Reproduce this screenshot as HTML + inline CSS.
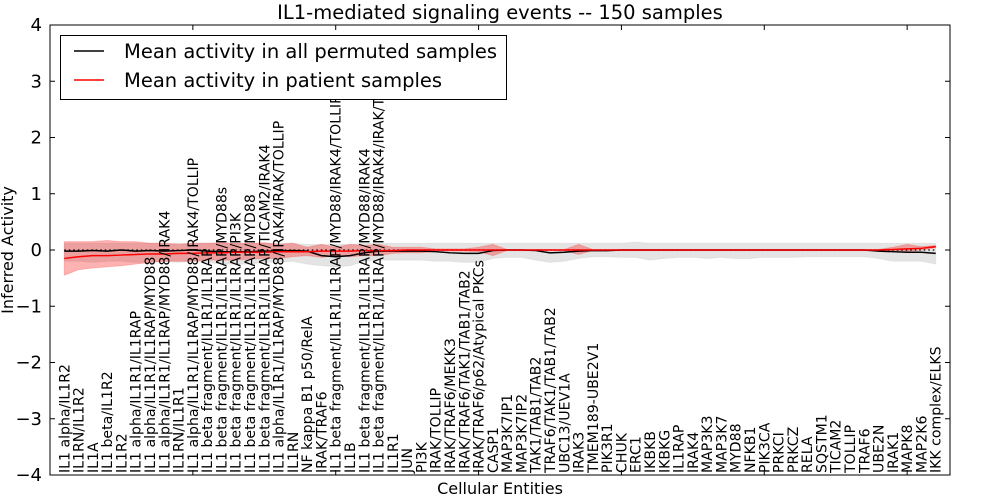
<!DOCTYPE html>
<html><head><meta charset="utf-8"><style>
body{margin:0;background:#fff;}
svg{display:block;font-family:"DejaVu Sans","Liberation Sans",sans-serif;}
</style></head><body>
<svg id="chart" width="1000" height="500"></svg>
<script>
const labels=["IL1 alpha/IL1R2","IL1RN/IL1R2","IL1A","IL1 beta/IL1R2","IL1R2","IL1 alpha/IL1R1/IL1RAP","IL1 alpha/IL1R1/IL1RAP/MYD88","IL1 alpha/IL1R1/IL1RAP/MYD88/IRAK4","IL1RN/IL1R1","IL1 alpha/IL1R1/IL1RAP/MYD88/IRAK4/TOLLIP","IL1 beta fragment/IL1R1/IL1RAP","IL1 beta fragment/IL1R1/IL1RAP/MYD88s","IL1 beta fragment/IL1R1/IL1RAP/PI3K","IL1 beta fragment/IL1R1/IL1RAP/MYD88","IL1 beta fragment/IL1R1/IL1RAP/TICAM2/IRAK4","IL1 alpha/IL1R1/IL1RAP/MYD88/IRAK4/IRAK/TOLLIP","IL1RN","NF kappa B1 p50/RelA","IRAK/TRAF6","IL1 beta fragment/IL1R1/IL1RAP/MYD88/IRAK4/TOLLIP","IL1B","IL1 beta fragment/IL1R1/IL1RAP/MYD88/IRAK4","IL1 beta fragment/IL1R1/IL1RAP/MYD88/IRAK4/IRAK/TOLLIP","IL1R1","JUN","PI3K","IRAK/TOLLIP","IRAK/TRAF6/MEKK3","IRAK/TRAF6/TAK1/TAB1/TAB2","IRAK/TRAF6/p62/Atypical PKCs","CASP1","MAP3K7IP1","MAP3K7IP2","TAK1/TAB1/TAB2","TRAF6/TAK1/TAB1/TAB2","UBC13/UEV1A","IRAK3","TMEM189-UBE2V1","PIK3R1","CHUK","ERC1","IKBKB","IKBKG","IL1RAP","IRAK4","MAP3K3","MAP3K7","MYD88","NFKB1","PIK3CA","PRKCI","PRKCZ","RELA","SQSTM1","TICAM2","TOLLIP","TRAF6","UBE2N","IRAK1","MAPK8","MAP2K6","IKK complex/ELKS"];
const permMean=[-0.02,-0.02,-0.01,-0.02,0,-0.02,-0.01,-0.02,-0.01,0,-0.02,-0.03,-0.03,-0.03,-0.02,-0.02,-0.01,-0.02,-0.1,-0.12,-0.1,-0.05,-0.02,-0.02,-0.02,-0.02,-0.03,-0.05,-0.06,-0.06,-0.01,0,0,-0.01,-0.05,-0.04,-0.02,-0.01,-0.01,0,0,0,0,0,0,0,0,0,0,0,0,0,0,0,0,0,0,-0.02,-0.03,-0.04,-0.04,-0.06];
const permHi=[0.12,0.12,0.12,0.12,0.12,0.12,0.12,0.12,0.12,0.12,0.12,0.12,0.12,0.12,0.12,0.12,0.12,0.1,0.1,0.1,0.1,0.12,0.12,0.12,0.12,0.12,0.12,0.12,0.12,0.12,0.12,0.12,0.12,0.12,0.12,0.12,0.12,0.12,0.12,0.12,0.14,0.12,0.12,0.12,0.12,0.12,0.12,0.12,0.12,0.12,0.12,0.12,0.12,0.12,0.12,0.12,0.12,0.12,0.12,0.12,0.12,0.12];
const permLo=[-0.2,-0.2,-0.22,-0.2,-0.2,-0.22,-0.22,-0.2,-0.22,-0.2,-0.22,-0.25,-0.25,-0.25,-0.22,-0.22,-0.2,-0.25,-0.28,-0.3,-0.28,-0.2,-0.18,-0.18,-0.18,-0.18,-0.2,-0.2,-0.22,-0.22,-0.15,-0.13,-0.13,-0.18,-0.22,-0.2,-0.15,-0.12,-0.12,-0.13,-0.13,-0.18,-0.15,-0.13,-0.13,-0.15,-0.13,-0.15,-0.15,-0.13,-0.13,-0.13,-0.12,-0.12,-0.12,-0.12,-0.12,-0.15,-0.2,-0.2,-0.2,-0.25];
const patMean=[-0.15,-0.12,-0.1,-0.1,-0.09,-0.08,-0.07,-0.07,-0.06,-0.06,-0.05,-0.05,-0.04,-0.04,-0.04,-0.03,-0.03,-0.03,-0.02,-0.02,-0.02,-0.01,-0.01,-0.01,0,0,0,0,0,0,0,0,0,0,0,0,0,0,0,0,0,0,0,0,0,0,0,0,0,0,0,0,0,0,0,0,0,0,0.01,0.02,0.03,0.06];
const patHi=[0.15,0.15,0.15,0.17,0.15,0.15,0.12,0.12,0.1,0.12,0.12,0.13,0.12,0.12,0.13,0.1,0.12,0.05,0.1,0.05,0.1,0.08,0.1,0.05,0.05,0.05,0.02,0.02,0.02,0.05,0.1,0.01,0.01,0.01,0.01,0.01,0.1,0.01,0.01,0.01,0.01,0.01,0.01,0.01,0.01,0.01,0.01,0.01,0.01,0.01,0.01,0.01,0.01,0.01,0.01,0.01,0.01,0.01,0.05,0.1,0.06,0.08];
const patLo=[-0.45,-0.35,-0.32,-0.3,-0.28,-0.25,-0.22,-0.2,-0.2,-0.2,-0.18,-0.18,-0.18,-0.16,-0.15,-0.15,-0.12,-0.1,-0.13,-0.1,-0.12,-0.1,-0.1,-0.06,-0.05,-0.05,-0.02,-0.02,-0.02,-0.03,-0.1,-0.01,-0.01,-0.01,-0.01,-0.01,-0.08,-0.01,-0.01,-0.01,-0.01,-0.01,-0.01,-0.01,-0.01,-0.01,-0.01,-0.01,-0.01,-0.01,-0.01,-0.01,-0.01,-0.01,-0.01,-0.01,-0.01,-0.01,-0.02,-0.02,0,0.04];
const yTicks=[-4,-3,-2,-1,0,1,2,3,4];

const NS="http://www.w3.org/2000/svg";
const svg=document.getElementById('chart');
const L=50,R=950,T=25,B=475;
const n=labels.length;
const X=i=>L+(i+1)*(R-L)/(n+1);
const Y=v=>T+(4-v)*(B-T)/8;
function mk(tag,attrs,parent){const e=document.createElementNS(NS,tag);for(const k in attrs)e.setAttribute(k,attrs[k]);(parent||svg).appendChild(e);return e;}
function band(hi,lo,fill,op,name){let d="M"+hi.map((v,i)=>X(i)+","+Y(v)).join("L");for(let i=n-1;i>=0;i--)d+="L"+X(i)+","+Y(lo[i]);d+="Z";const p=mk('path',{d:d,fill:fill,'fill-opacity':op,stroke:fill,'stroke-opacity':op*0.6});

}
function line(arr,col,name){const p=mk('polyline',{points:arr.map((v,i)=>X(i)+","+Y(v)).join(" "),fill:'none',stroke:col,'stroke-width':1.5});

}
band(permHi,permLo,'#bbbbbb',0.4,'permuted-band');
band(patHi,patLo,'#ff0000',0.3,'patient-band');
const zl=mk('line',{x1:X(0),x2:X(n-1),y1:Y(0),y2:Y(0),stroke:'#000','stroke-dasharray':'1.5,3','stroke-width':1.2});


line(permMean,'#000','permuted-mean-line');
line(patMean,'#ff0000','patient-mean-line');
labels.forEach((t,i)=>{const e=mk('text',{x:0,y:0,transform:`translate(${X(i)+5},473) rotate(-90)`,'font-size':'14.1px',fill:'#000'});e.textContent=t;

});
yTicks.forEach(v=>{mk('line',{x1:L,x2:L+5,y1:Y(v),y2:Y(v),stroke:'#000'});mk('line',{x1:R-5,x2:R,y1:Y(v),y2:Y(v),stroke:'#000'});
const e=mk('text',{x:L-8,y:Y(v)+6,'text-anchor':'end','font-size':'18px'});e.textContent=(v<0?'\u2212'+(-v):v);

});
for(let i=0;i<=n;i+=10){const x=L+i*(R-L)/(n+1);mk('line',{x1:x,x2:x,y1:T,y2:T+5,stroke:'#000'});mk('line',{x1:x,x2:x,y1:B-5,y2:B,stroke:'#000'});}
const fr=mk('rect',{x:L,y:T,width:R-L,height:B-T,fill:'none',stroke:'#000','stroke-width':1});


let t=mk('text',{x:500,y:19,'text-anchor':'middle','font-size':'19.5px'});t.textContent='IL1-mediated signaling events -- 150 samples';


t=mk('text',{x:500,y:494,'text-anchor':'middle','font-size':'16px'});t.textContent='Cellular Entities';


t=mk('text',{x:0,y:0,transform:'translate(13,250) rotate(-90)','text-anchor':'middle','font-size':'16px'});t.textContent='Inferred Activity';


const lg=mk('g',{});


mk('rect',{x:60.5,y:35.5,width:446,height:64,fill:'#fff',stroke:'#000'},lg);
mk('line',{x1:74,x2:104,y1:51,y2:51,stroke:'#000','stroke-width':1.5},lg);
mk('line',{x1:74,x2:104,y1:80,y2:80,stroke:'#f00','stroke-width':1.5},lg);
t=mk('text',{x:124,y:58,'font-size':'19.5px'},lg);t.textContent='Mean activity in all permuted samples';


t=mk('text',{x:124,y:87,'font-size':'19.5px'},lg);t.textContent='Mean activity in patient samples';


</script>
</body></html>
